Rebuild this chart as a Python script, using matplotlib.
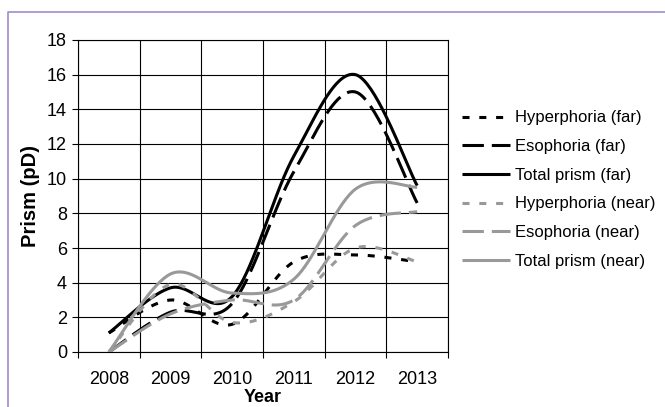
from matplotlib import pyplot as plt
from matplotlib.lines import Line2D
import numpy as np

plt.rcParams['font.family'] = ['Liberation Sans', 'DejaVu Sans']

years = ["2008", "2009", "2010", "2011", "2012", "2013"]
hyperFar = [1.1, 3.0, 1.6, 5.2, 5.6, 5.2]
esoFar = [0.0, 2.3, 2.8, 10.4, 15.0, 8.6]
totalFar = [1.1, 3.7, 3.2, 11.3, 16.0, 9.6]
hyperNear = [0.0, 3.9, 1.7, 2.9, 6.0, 5.2]
esoNear = [0.0, 2.2, 3.0, 3.0, 7.3, 8.1]
totalNear = [0.0, 4.5, 3.4, 4.2, 9.4, 9.5]


def smooth(xs, ys, n=40):
    # excel-like smoothed line (catmull-rom as bezier)
    p = np.column_stack([xs, ys]).astype(float)
    outX, outY = [], []
    for i in range(len(p) - 1):
        p0 = p[i - 1] if i > 0 else p[i]
        p1 = p[i]
        p2 = p[i + 1]
        p3 = p[i + 2] if i + 2 < len(p) else p[i + 1]
        c1 = p1 + (p2 - p0) / 6.0
        c2 = p2 - (p3 - p1) / 6.0
        t = np.linspace(0, 1, n)[:, None]
        b = (1 - t) ** 3 * p1 + 3 * (1 - t) ** 2 * t * c1 + 3 * (1 - t) * t ** 2 * c2 + t ** 3 * p2
        outX.extend(b[:, 0])
        outY.extend(b[:, 1])
    return outX, outY


fig = plt.figure(figsize=(6.65, 4.07), dpi=100)
ax = fig.add_axes([78 / 665, 1 - 352 / 407, 370 / 665, 312 / 407])

x = np.arange(len(years))
grey = "#999999"
lw = 2.2
series = [
    (hyperFar, "Hyperphoria (far)", "black", (2.3, 3.2)),
    (esoFar, "Esophoria (far)", "black", (7.0, 2.6)),
    (totalFar, "Total prism (far)", "black", None),
    (hyperNear, "Hyperphoria (near)", grey, (2.3, 3.2)),
    (esoNear, "Esophoria (near)", grey, (7.0, 2.6)),
    (totalNear, "Total prism (near)", grey, None),
]
for vals, name, col, dash in series:
    sx, sy = smooth(x, vals)
    line, = ax.plot(sx, sy, color=col, lw=lw, label=name, solid_capstyle="butt",
                    dash_capstyle="butt", zorder=3)
    if dash is not None:
        line.set_dashes(dash)

ax.set_xlim(-0.5, 5.5)
ax.set_ylim(0, 18)
ax.set_yticks(np.arange(0, 19, 2))
ax.set_xticks(x)
ax.set_xticklabels(years)
ax.set_xticks(np.arange(-0.5, 5.6, 1), minor=True)
ax.tick_params(axis="x", which="major", length=0, pad=13.5, labelsize=13)
ax.tick_params(axis="x", which="minor", length=4, width=0.8, direction="out")
ax.tick_params(axis="y", length=4, width=0.8, direction="out", pad=4, labelsize=13)
ax.grid(True, axis="y", which="major", color="black", lw=0.8)
ax.grid(True, axis="x", which="minor", color="black", lw=0.8)
for s in ax.spines.values():
    s.set_color("black")
    s.set_linewidth(0.8)

fig.text(30 / 665, 0.518, "Prism (pD)", rotation=90, ha="center", va="center",
         fontsize=14.5, fontweight="bold")
fig.text(263 / 665, 1 / 407, "Year", ha="center", va="bottom",
         fontsize=13, fontweight="bold")

ax.legend(loc="center left", bbox_to_anchor=(462 / 665, 1 - 189.5 / 407),
          bbox_transform=fig.transFigure, frameon=False, fontsize=12,
          handlelength=2.9, handletextpad=0.3, labelspacing=0.82,
          borderpad=0, borderaxespad=0)

border = "#a08cd0"
fig.add_artist(Line2D([8 / 665, 8 / 665, 1], [0, 1 - 12 / 407, 1 - 12 / 407],
                      color=border, lw=1.2, transform=fig.transFigure))

plt.savefig("out.png", dpi=100)
